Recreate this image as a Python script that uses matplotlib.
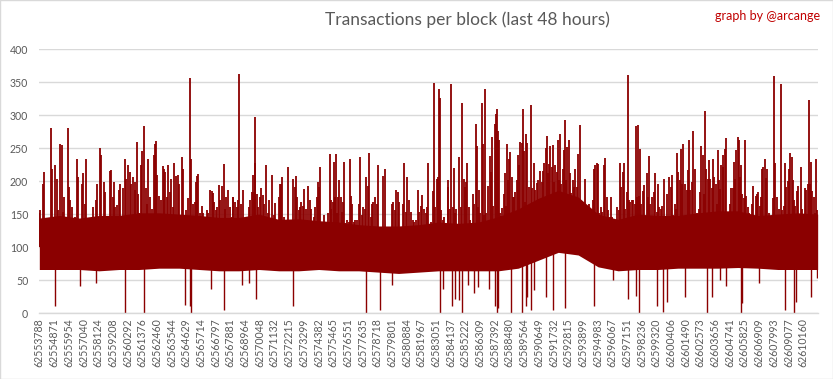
import numpy as np
import matplotlib
matplotlib.use("Agg")
import matplotlib.pyplot as plt
from matplotlib.patches import Rectangle

plt.rcParams['font.family'] = ['Lato', 'DejaVu Sans']

# ---------------- data ----------------
N_BLOCKS = 57390          # number of blocks in the 48 h window (category axis)
LABEL_STEP = 1083         # a label every 1083 categories

tick_labels = [
    "62553788", "62554871", "62555954", "62557040", "62558124", "62559208",
    "62560292", "62561376", "62562460", "62563544", "62564629", "62565714",
    "62566797", "62567881", "62568964", "62570048", "62571132", "62572215",
    "62573299", "62574382", "62575465", "62576551", "62577635", "62578718",
    "62579801", "62580884", "62581967", "62583051", "62584137", "62585222",
    "62586309", "62587392", "62588480", "62589564", "62590649", "62591732",
    "62592815", "62593899", "62594983", "62596067", "62597151", "62598236",
    "62599320", "62600406", "62601490", "62602573", "62603656", "62604741",
    "62605825", "62606909", "62607993", "62609077", "62610160",
]

# dense core of the series (typical top / bottom over consecutive stretches)
core_top = [144, 148, 144, 148, 148, 152, 152, 150, 148, 145,
            145, 150, 142, 143, 140, 138, 134, 132, 132, 134,
            138, 136, 138, 146, 158, 174, 186, 176, 150, 142,
            150, 148, 148, 152, 155, 155, 148, 150, 152, 150]
core_bottom = [66, 66, 66, 64, 66, 66, 68, 68, 66, 64,
               64, 66, 64, 64, 66, 64, 64, 62, 60, 62,
               64, 64, 64, 64, 68, 80, 92, 88, 70, 64,
               66, 66, 68, 68, 68, 69, 68, 66, 66, 66]

# individual high values (block index in window, transactions)
peak_idx = [
    5, 76, 248, 347, 887, 961, 1035, 1182, 1329, 1403, 1551, 1673, 1723, 1845, 2140, 2214, 2288, 2411,
    2607, 2804, 2877, 3123, 3246, 3369, 3467, 3614, 3958, 4204, 4278, 4499, 4573, 4745, 4868, 5015,
    5212, 5310, 5408, 5531, 5605, 5728, 5875, 5973, 6194, 6342, 6415, 6563, 6661, 6784, 6882, 7030,
    7053, 7176, 7274, 7372, 7520, 7593, 7741, 7839, 7962, 8036, 8183, 8330, 8453, 8527, 8625, 8699,
    8822, 8969, 9092, 9190, 9289, 9387, 9510, 9608, 9706, 9829, 9952, 10099, 10198, 10296, 10493,
    10615, 10836, 10935, 11131, 11205, 11303, 11451, 11524, 11598, 11721, 11819, 11967, 12065, 12212,
    12335, 12434, 12581, 12704, 12802, 12900, 13023, 13122, 13269, 13343, 13490, 13588, 13662, 13760,
    13908, 14055, 14178, 14252,
    14276, 14399, 14448, 14546, 14669, 14743, 14841, 14988, 15111, 15234, 15332, 15431, 15553, 15652,
    15725, 15799, 15873, 15922, 16045, 16143, 16266, 16364, 16462, 16561, 16733, 16831, 16954, 17126,
    17224, 17322, 17396, 17519, 17666, 17765, 17838, 17912, 18010, 18133, 18354, 18723, 18821, 18944,
    19018, 19116, 19214, 19288, 19411, 19534, 19632, 19730, 19829, 19927, 20050, 20148, 20246, 20345,
    20443, 20541, 20615, 20713, 20959, 21057, 21131, 21254, 21401, 21475,
    21499, 21622, 21695, 21769, 21892, 21966, 22039, 22113, 22236, 22334, 22408, 22482, 22555, 22678,
    22801, 22875, 22973, 23071, 23169, 23292, 23440, 23587, 23661, 23759, 23857, 23980, 24103, 24201,
    24324, 24423, 24521, 24619, 24717, 24865, 24988, 25356, 25479, 25995, 26093, 26216, 26314, 26437,
    26535, 26781, 26904, 27002, 27125, 27273, 27396, 27518, 27641, 27764, 27887, 28010, 28108, 28231,
    28354, 28477, 28599, 28673,
    28844, 29040, 29114, 29188, 29286, 29384, 29482, 29556, 29630, 29728, 29802, 30097, 30170, 30269,
    30367, 30465, 30539, 30613, 30735, 30957, 31055, 31178, 31276, 31350, 31448, 31546, 31645, 31743,
    31964, 32087, 32185, 32259, 32333, 32431, 32529, 32627, 32701, 32799, 32873, 32971, 33094, 33242,
    33315, 33414, 33463, 33586, 33659, 33733, 33807, 33880, 33954, 34052, 34151, 34249, 34347, 34396,
    34495, 34593, 34667, 34740, 34839, 34912, 35011, 35109, 35207, 35281, 35379, 35477, 35576, 35674,
    35772, 35846, 35920, 35969,
    36091, 36165, 36263, 36361, 36460, 36558, 36681, 36804, 36951, 37049, 37148, 37221, 37344, 37442,
    37541, 37614, 37688, 37786, 37885, 37983, 38057, 38155, 38253, 38327, 38425, 38499, 38597, 38696,
    38769, 38843, 38941, 39040, 39113, 39212, 39334, 39433, 39531, 39629, 39727, 39850, 39949, 40047,
    40121, 40243, 40342, 40465, 40538, 40637, 40735, 40833, 40907, 41005, 41103, 41202, 41275, 41398,
    41521, 41644, 41742, 41865, 41963, 42062, 42160, 42258, 42381, 42504, 42627, 42725, 42823, 42922,
    43044, 43143,
    43215, 43313, 43411, 43485, 43583, 43706, 43805, 43903, 44001, 44075, 44149, 44247, 44296, 44394,
    44492, 44615, 44714, 44812, 44886, 44984, 45058, 45156, 45254, 45328, 45426, 45524, 45598, 45721,
    45844, 45942, 46040, 46139, 46262, 46360, 46458, 46556, 46655, 46753, 46851, 46949, 47048, 47121,
    47220, 47318, 47392, 47490, 47613, 47736, 47834, 47908, 48006, 48129, 48227, 48325, 48424, 48522,
    48620, 48719, 48817, 48915, 49013, 49087, 49185, 49284, 49382, 49480, 49578, 49677, 49775, 49873,
    49972, 50045, 50144, 50218, 50291, 50389,
    50438, 50536, 50634, 50733, 50831, 50929, 51028, 51126, 51224, 51322, 51396, 51519, 51593, 51666,
    51740, 51838, 51937, 52035, 52133, 52231, 52330, 52428, 52526, 52625, 52723, 52821, 52919, 53018,
    53116, 53214, 53288, 53386, 53485, 53583, 53681, 53779, 53976, 54074, 54172, 54271, 54369, 54467,
    54566, 54688, 54787, 54885, 54983, 55082, 55180, 55278, 55377, 55475, 55548, 55647, 55745, 55843,
    55942, 56064, 56163, 56261, 56359, 56458, 56556, 56654, 56752, 56826, 56900, 56998, 57096, 57195,
    57268, 57342,
]
peak_val = [
    151, 156, 196, 214, 280, 219, 138, 224, 203, 156, 256, 255, 153, 176, 281, 191, 171, 161,
    146, 233, 207, 196, 212, 166, 234, 136, 161, 171, 195, 251, 240, 199, 184, 136,
    215, 217, 176, 198, 161, 164, 186, 196, 189, 233, 204, 224, 214, 196, 207, 186,
    199, 259, 181, 151, 224, 245, 284, 189, 166, 233, 176, 158, 240, 256, 261, 209,
    178, 171, 223, 219, 214, 176, 225, 184, 203, 161, 227, 208, 209, 196, 237,
    219, 156, 174, 356, 234, 166, 169, 199, 208, 211, 151, 163, 151, 138,
    156, 151, 187, 185, 182, 169, 156, 161, 194, 171, 193, 226, 158, 176,
    186, 161, 146, 176,
    176, 143, 168, 161, 171, 362, 166, 187, 136, 141, 138, 161, 171, 184,
    210, 184, 227, 298, 180, 161, 176, 189, 179, 166, 225, 151, 172, 209,
    141, 148, 167, 141, 176, 196, 195, 206, 146, 141, 222, 204, 191, 208,
    176, 156, 161, 168, 163, 188, 158, 141, 192, 171, 158, 136, 146, 161,
    176, 198, 191, 222, 148, 138, 138, 151, 241, 158,
    171, 169, 229, 176, 241, 151, 176, 201, 176, 153, 168, 229, 136, 141,
    138, 234, 178, 165, 138, 141, 141, 165, 236, 148, 161, 158, 207, 192,
    242, 146, 166, 169, 176, 166, 225, 208, 218, 166, 169, 156, 186, 184,
    169, 166, 227, 153, 207, 171, 153, 141, 138, 141, 186, 153, 163, 179,
    158, 151, 161, 227,
    138, 185, 349, 161, 203, 207, 340, 326, 156, 141, 146, 202, 191, 158,
    348, 161, 220, 151, 158, 237, 161, 319, 204, 191, 199, 227, 161, 141,
    181, 166, 286, 254, 161, 187, 151, 318, 257, 148, 340, 151, 193, 238,
    214, 267, 163, 287, 302, 310, 276, 262, 151, 147, 159, 181, 212, 163,
    256, 202, 233, 244, 206, 176, 176, 184, 202, 240, 224, 260, 258, 309,
    245, 168, 271, 258,
    191, 156, 315, 190, 227, 186, 197, 202, 216, 199, 216, 227, 250, 268,
    212, 226, 253, 222, 255, 199, 224, 214, 263, 201, 271, 196, 219, 247,
    293, 201, 252, 262, 212, 182, 202, 191, 219, 191, 241, 285, 148, 158,
    156, 203, 141, 151, 166, 158, 156, 171, 219, 224, 228, 226, 151, 161,
    153, 224, 235, 176, 156, 146, 176, 146, 138, 136, 161, 156, 228, 191,
    214, 228,
    158, 184, 361, 171, 168, 171, 172, 166, 283, 176, 285, 177, 248, 166,
    185, 194, 146, 213, 176, 238, 166, 176, 146, 184, 212, 153, 196, 161,
    158, 163, 204, 141, 180, 136, 207, 191, 209, 149, 166, 158, 242, 214,
    201, 249, 196, 257, 196, 186, 217, 262, 186, 199, 276, 219, 141, 151,
    158, 184, 253, 240, 181, 306, 219, 204, 232, 204, 189, 234, 206, 196,
    166, 247, 201, 188, 224, 240,
    221, 249, 266, 151, 151, 166, 189, 189, 229, 204, 247, 267, 262, 206,
    224, 181, 174, 262, 178, 161, 151, 148, 166, 193, 146, 178, 181, 184,
    163, 176, 218, 221, 233, 205, 219, 151, 138, 174, 359, 228, 176, 149,
    158, 347, 156, 162, 228, 191, 200, 219, 243, 237, 202, 171, 163, 185,
    193, 144, 222, 158, 146, 189, 186, 196, 323, 196, 229, 185, 176, 151,
    233, 156,
]

# individual low values (block index in window, transactions)
dip_idx = [1182, 3025, 4204, 6342, 7741, 10738, 11131, 11205, 12655, 13588, 14939, 15431,
           15996, 18723, 24103, 25135, 25995, 29507, 29728, 30392, 30613, 30981, 31178,
           31595, 32087, 32333, 33192, 33635, 33733, 33856, 34790, 35600, 35895, 35944,
           36263, 36484, 37393, 37909, 38769, 40882, 42307, 43411, 44001, 44222, 45549,
           45991, 46286, 47613, 49235, 49603, 50218, 50634, 51740, 51814, 53092, 54983,
           55622, 55794, 56900, 57317]
dip_val = [11, 41, 45, 0, 0, 12, 10, 0, 36, 5, 42, 45,
           22, 10, 0, 4, 42, 0, 37, 10, 22, 20, 0,
           42, 30, 40, 37, 11, 0, 7, 0, 0, 10, 25,
           5, 35, 25, 5, 7, 10, 50, 22, 26, 0, 10,
           2, 17, 25, 0, 25, 50, 41, 0, 15, 45, 5,
           0, 17, 25, 53]

# ---------------- figure ----------------
RED = '#8B0000'
GRID = '#D9D9D9'
TXT = '#595959'

fig = plt.figure(figsize=(8.33, 3.79), dpi=100)
ax = fig.add_axes([0.0472, 0.1741, 0.9344, 0.6959])

seg_x = np.linspace(0, N_BLOCKS, len(core_top))
ax.fill_between(seg_x, core_bottom, core_top, color=RED, lw=0, zorder=2)
ax.vlines(peak_idx, 100, peak_val, color=RED, lw=1.3, zorder=2)
ax.vlines(dip_idx, dip_val, 100, color=RED, lw=1.0, zorder=2)

ax.set_xlim(0, N_BLOCKS)
ax.set_ylim(0, 400)
ax.set_yticks(range(0, 401, 50))
ax.grid(axis='y', color=GRID, lw=1)
ax.set_axisbelow(True)
for s in ['top', 'right', 'left']:
    ax.spines[s].set_visible(False)
ax.spines['bottom'].set_color(GRID)
ax.spines['bottom'].set_linewidth(1)

ax.set_xticks(np.arange(len(tick_labels)) * LABEL_STEP)
ax.set_xticklabels(tick_labels, rotation=90, fontsize=7.6, color=TXT)
ax.tick_params(axis='x', length=0, pad=4)
ax.tick_params(axis='y', length=0, pad=8, labelsize=7.6, labelcolor=TXT)

fig.text(0.561, 1 - 20 / 379, "Transactions per block (last 48 hours)",
         ha='center', va='center', fontsize=12.5, color=TXT)
fig.text(820 / 833, 1 - 16 / 379, "graph by @arcange",
         ha='right', va='center', fontsize=9, color='#C00000')

fig.patches.append(Rectangle((0.0006, 0.0013), 0.9988, 0.9974, transform=fig.transFigure,
                             fill=False, ec=GRID, lw=1))

fig.savefig("out.png", dpi=100)
